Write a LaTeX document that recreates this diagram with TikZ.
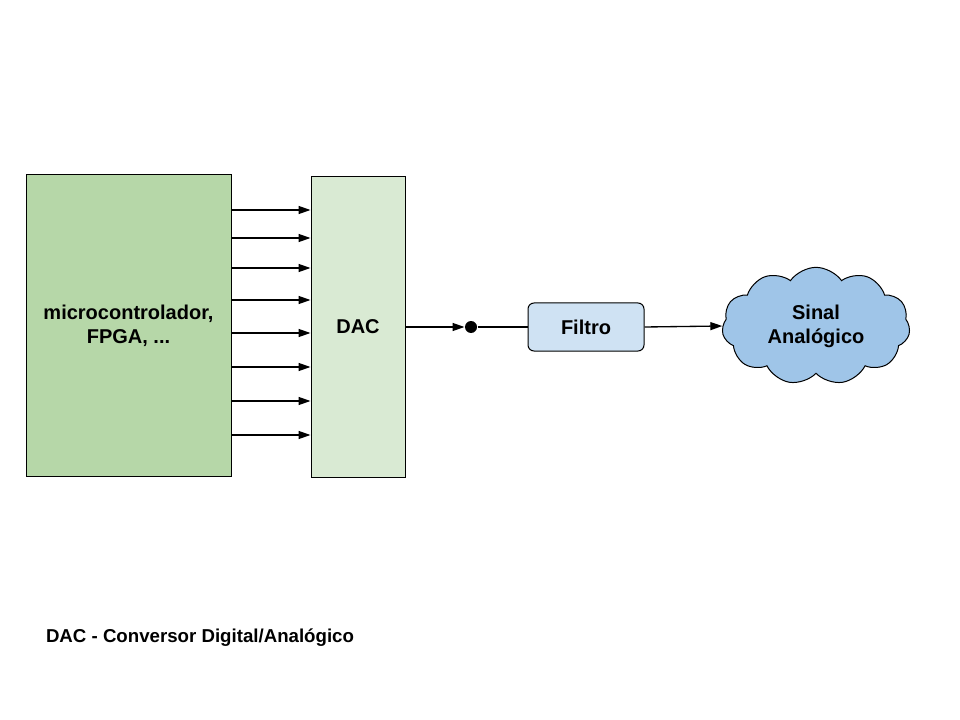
\documentclass[tikz,border=0pt]{standalone}
\usepackage{fontspec}
\setmainfont{Liberation Sans}
\usetikzlibrary{arrows.meta,shapes.symbols}
\definecolor{mcugreen}{HTML}{B6D7A8}
\definecolor{dacgreen}{HTML}{D9EAD3}
\definecolor{filtroblue}{HTML}{CFE2F3}
\definecolor{cloudblue}{HTML}{9FC5E8}
\begin{document}
\begin{tikzpicture}[x=0.75pt,y=-0.75pt,line width=0.75pt,
  font=\fontsize{15}{18}\selectfont\bfseries,
  box/.style={draw,inner sep=0pt,align=center},
  sig/.style={-{Triangle[length=9pt,width=6pt]},line width=1pt}]
  \useasboundingbox (0,0) rectangle (960,720);
  \node[box,fill=mcugreen,minimum width=153.75pt,minimum height=225.75pt] (mcu) at (128.5,325.5) {microcontrolador,\\FPGA, ...};
  \node[box,fill=dacgreen,minimum width=70.5pt,minimum height=225pt] (dac) at (358,327) {DAC};
  \foreach \y in {210,238,268,300,333,367,401,435}{
    \draw[sig] (mcu.east |- 0,\y) -- (dac.west |- 0,\y);}
  \node[circle,fill=black,inner sep=0pt,minimum size=9pt] (dot) at (471,327) {};
  \node[box,fill=filtroblue,rounded corners=4.5pt,minimum width=87pt,minimum height=36pt] (filtro) at (586,327) {Filtro};
  \node[cloud,draw,fill=cloudblue,cloud puffs=11,cloud puff arc=110,cloud ignores aspect,
    minimum width=141pt,minimum height=88pt,inner sep=0pt,align=center] (sinal) at (816,326) {Sinal\\Analógico};
  \draw[sig] (dac.east |- dot) -- (dot.west);
  \draw[line width=1pt] (dot.east) -- (filtro.west);
  \draw[sig] (filtro.east) -- (sinal.west);
  \node[anchor=base west,inner sep=0pt,font=\fontsize{14}{17}\selectfont\bfseries] (legenda) at (45.5,642) {DAC - Conversor Digital/Analógico};
\end{tikzpicture}
\end{document}
